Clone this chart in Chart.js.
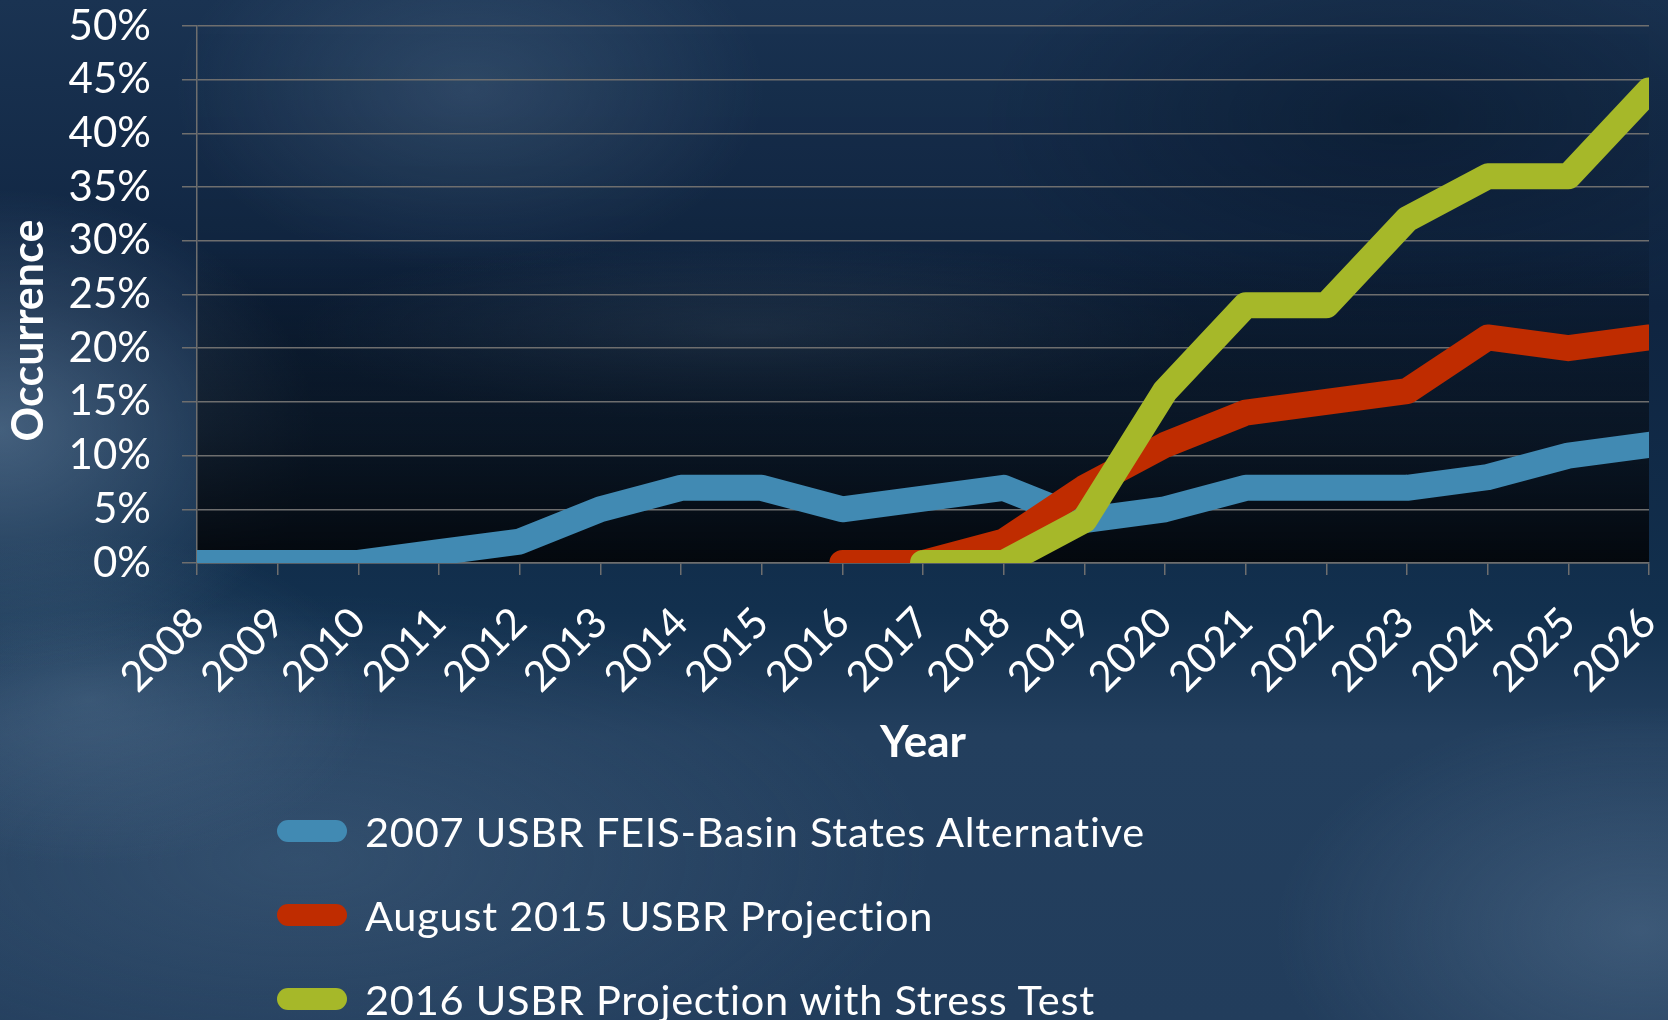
<!DOCTYPE html>
<html>
<head>
<meta charset="utf-8">
<script src="https://cdn.jsdelivr.net/npm/chart.js"></script>
<style>
  html, body { margin:0; padding:0; width:1668px; height:1020px; overflow:hidden; }
  body {
    font-family: Lato, sans-serif;
    background:
      radial-gradient(ellipse 420px 260px at 470px 90px, rgba(90,120,150,0.35), transparent 70%),
      radial-gradient(ellipse 420px 320px at 0px 430px, rgba(110,140,170,0.55), transparent 75%),
      radial-gradient(ellipse 380px 220px at 90px 700px, rgba(100,130,160,0.35), transparent 75%),
      radial-gradient(ellipse 650px 130px at 750px 330px, rgba(90,120,150,0.30), transparent 70%),
      radial-gradient(ellipse 520px 320px at 1640px 930px, rgba(100,130,160,0.40), transparent 70%),
      radial-gradient(ellipse 900px 380px at 300px 860px, rgba(80,110,140,0.35), transparent 70%),
      radial-gradient(ellipse 600px 300px at 1400px 120px, rgba(0,10,25,0.35), transparent 70%),
      linear-gradient(180deg, #1a3352 0%, #0f2440 30%, #12304e 60%, #233f5e 72%, #223d5c 100%);
  }
  #wrap { position:absolute; left:0; top:0; width:1668px; height:1020px; }
  #legend { position:absolute; left:277px; top:789px; color:#fff; font-size:41.5px; letter-spacing:0.75px; }
  .item { display:flex; align-items:center; height:84px; white-space:nowrap; }
  .swatch { width:70px; height:22px; border-radius:11px; margin-right:18px; flex:none; }
</style>
</head>
<body>
<div id="wrap"><canvas id="myChart"></canvas></div>
<div id="legend"></div>

<script>
const years = ['2008','2009','2010','2011','2012','2013','2014','2015','2016','2017',
               '2018','2019','2020','2021','2022','2023','2024','2025','2026'];
// percent of traces
const feis2007 = [0, 0, 0, 1, 2, 5, 7, 7, 5, 6, 7, 4, 5, 7, 7, 7, 8, 10, 11];
const aug2015 = [null, null, null, null, null, null, null, null, 0, 0, 2, 7, 11, 14, 15, 16, 21, 20, 21];
const stress2016 = [null, null, null, null, null, null, null, null, null, 0, 0, 4, 16, 24, 24, 32, 36, 36, 44];
const seriesNames = ['2007 USBR FEIS-Basin States Alternative', 'August 2015 USBR Projection', '2016 USBR Projection with Stress Test'];
const yTicks = [0, 5, 10, 15, 20, 25, 30, 35, 40, 45, 50];
const yTitle = 'Occurrence';

const gridCol = '#6e6e6e';
const tickFont = { family: 'Lato', size: 42 };

function lineSet(label, values, color, order) {
  return {
    label: label, data: values, borderColor: color, backgroundColor: color,
    borderWidth: 26, pointRadius: 0, pointHoverRadius: 0, tension: 0,
    borderCapStyle: 'round', borderJoinStyle: 'round', clip: 0, order: order, fill: false
  };
}

// darker band toward the bottom of the plot area
const areaShade = {
  id: 'areaShade',
  beforeDraw(chart) {
    const a = chart.chartArea, ctx = chart.ctx;
    const g = ctx.createLinearGradient(0, a.top, 0, a.bottom);
    g.addColorStop(0, 'rgba(0,0,0,0)');
    g.addColorStop(0.4, 'rgba(0,0,0,0.05)');
    g.addColorStop(0.75, 'rgba(6,10,16,0.6)');
    g.addColorStop(1, 'rgba(3,6,10,0.95)');
    ctx.save();
    ctx.fillStyle = g;
    ctx.fillRect(a.left, a.top, a.right - a.left, a.bottom - a.top);
    ctx.restore();
  },
  // y title sits a bit below the middle of the axis, as in the original
  afterDraw(chart) {
    const a = chart.chartArea, ctx = chart.ctx;
    ctx.save();
    ctx.translate(29, (a.top + a.bottom) / 2 + 36);
    ctx.rotate(-Math.PI / 2);
    ctx.fillStyle = '#fff';
    ctx.font = 'bold 43px Lato';
    ctx.textAlign = 'center';
    ctx.textBaseline = 'middle';
    ctx.fillText(yTitle, 0, 0);
    ctx.restore();
  }
};

const config = {
  type: 'line',
  data: {
    labels: years,
    datasets: [
      lineSet(seriesNames[0], feis2007, '#418ab3', 3),
      lineSet(seriesNames[1], aug2015, '#bf2c00', 2),
      lineSet(seriesNames[2], stress2016, '#a6b829', 1)
    ]
  },
  options: {
    responsive: true,
    maintainAspectRatio: false,
    animation: false,
    layout: { padding: { left: 0, top: 26, right: 19, bottom: 227 } },
    plugins: { legend: { display: false }, tooltip: { enabled: false } },
    scales: {
      x: {
        grid: { drawOnChartArea: false, drawTicks: true, tickLength: 12, color: gridCol, lineWidth: 1.5 },
        border: { color: gridCol, width: 1.5 },
        ticks: { color: '#fff', font: tickFont, minRotation: 45, maxRotation: 45, padding: 23, autoSkip: false },
        title: { display: true, text: 'Year', color: '#fff', font: { family: 'Lato', size: 44, weight: 'bold' }, padding: { top: 0, bottom: 24 } },
        afterFit(s) { s.height = 230; s.paddingLeft = 0; s.paddingRight = 0; }
      },
      y: {
        min: 0, max: 50,
        afterBuildTicks(s) { s.ticks = yTicks.map(v => ({ value: v })); },
        grid: { color: gridCol, lineWidth: 1.5, tickLength: 15 },
        border: { color: gridCol, width: 1.5 },
        ticks: { color: '#fff', font: tickFont, padding: 31, callback: v => v + '%' },
        afterFit(s) { s.width = 197; s.paddingTop = 0; s.paddingBottom = 0; }
      }
    }
  },
  plugins: [areaShade]
};

var myChart = new Chart(document.getElementById('myChart'), config);

// legend in the page, one row per series
const legendBox = document.getElementById('legend');
myChart.data.datasets.forEach(ds => {
  const row = document.createElement('div');
  row.className = 'item';
  const sw = document.createElement('span');
  sw.className = 'swatch';
  sw.style.background = ds.borderColor;
  const txt = document.createElement('span');
  txt.textContent = ds.label;
  row.appendChild(sw);
  row.appendChild(txt);
  legendBox.appendChild(row);
});
</script>
</body>
</html>
